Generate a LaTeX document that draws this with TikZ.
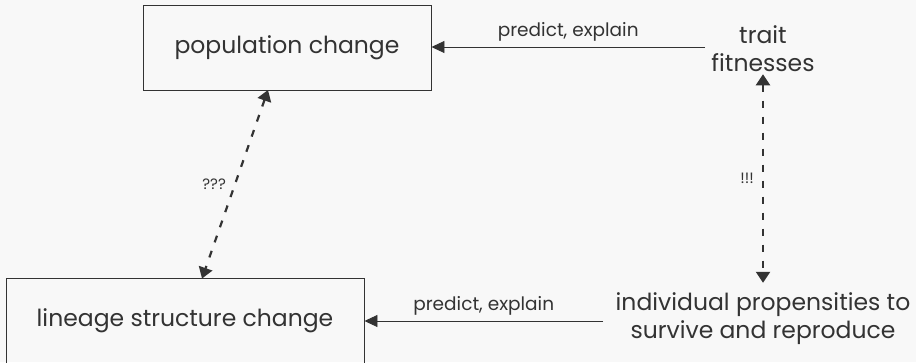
\documentclass[tikz,border=0pt]{standalone}
\usepackage{fontspec}
\setmainfont{Poppins}
\usetikzlibrary{arrows.meta,calc,positioning}
\definecolor{ink}{HTML}{333333}
\definecolor{paper}{HTML}{F8F8F8}
\tikzset{
  box/.style={draw=ink,line width=0.9pt,minimum width=#1,minimum height=85pt,inner sep=0pt,text=ink,font=\fontsize{23.5}{28}\selectfont},
  plain/.style={text=ink,align=center,inner sep=0pt,font=\fontsize{23.5}{28}\selectfont},
  lbl/.style={text=ink,inner sep=1pt,font=\fontsize{18.5}{22}\selectfont},
  marks/.style={text=ink,inner sep=1pt,font=\fontsize{15}{18}\selectfont},
  solidarr/.style={draw=ink,line width=0.9pt,-{Triangle[length=13pt,width=12pt]}},
  dasharr/.style={draw=ink,line width=2.2pt,dash pattern=on 7pt off 9pt,{Triangle[length=11pt,width=14pt]}-{Triangle[length=11pt,width=14pt]}}
}
\begin{document}
\begin{tikzpicture}[x=1pt,y=-1pt]
\fill[paper] (0,0) rectangle (916,362);
\useasboundingbox (0,0) rectangle (916,362);
\node (pop) at (287,48) [box=288pt] {population change};
\node (lin) at (185,320.5) [box=358pt] {lineage structure change};
\node (trait) at (763,49) [plain] {trait\\fitnesses};
\node (indiv) at (763,319) [plain] {individual propensities to\\survive and reproduce};

\draw[solidarr] (705,47) coordinate (tw) -- (pop.east |- tw)
  node[lbl,midway,above=4pt] {predict, explain};
\draw[solidarr] (603,321) coordinate (iw) -- (lin.east |- iw)
  node[lbl,midway,above=4pt] {predict, explain};
\draw[dasharr] ([yshift=-2pt]trait.south) -- ([yshift=10pt]indiv.north)
  node[marks,midway,left=7pt] {!!!};
\draw[dasharr] ([xshift=-19pt,yshift=1pt]pop.south) -- ([xshift=17pt,yshift=-1pt]lin.north)
  node[marks,midway,left=7pt] {???};
\end{tikzpicture}
\end{document}
